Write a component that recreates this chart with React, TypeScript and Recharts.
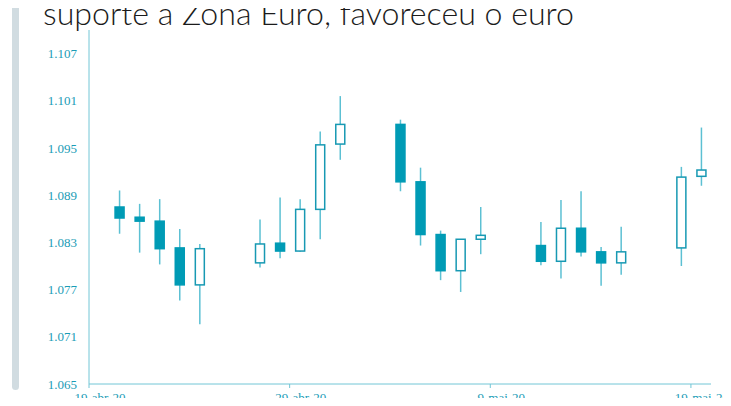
import React from 'react';
import { ComposedChart, Bar, XAxis, YAxis } from 'recharts';

// trading days (candles sit at midday of each date)
const dates = [
  '2020-04-20', '2020-04-21', '2020-04-22', '2020-04-23', '2020-04-24',
  '2020-04-27', '2020-04-28', '2020-04-29', '2020-04-30', '2020-05-01',
  '2020-05-04', '2020-05-05', '2020-05-06', '2020-05-07', '2020-05-08',
  '2020-05-11', '2020-05-12', '2020-05-13', '2020-05-14', '2020-05-15',
  '2020-05-18', '2020-05-19',
];
const open = [
  1.0875, 1.0862, 1.0857, 1.0823, 1.0776,
  1.0804, 1.0829, 1.0819, 1.0872, 1.0955,
  1.0980, 1.0907, 1.0840, 1.0794, 1.0834,
  1.0826, 1.0806, 1.0848, 1.0818, 1.0804,
  1.0823, 1.0914,
];
const high = [
  1.0896, 1.0879, 1.0885, 1.0847, 1.0828,
  1.0859, 1.0887, 1.0885, 1.0971, 1.1016,
  1.0986, 1.0925, 1.0845, 1.0834, 1.0875,
  1.0856, 1.0884, 1.0895, 1.0824, 1.0850,
  1.0926, 1.0976,
];
const low = [
  1.0841, 1.0817, 1.0802, 1.0756, 1.0726,
  1.0798, 1.0810, 1.0818, 1.0834, 1.0935,
  1.0895, 1.0826, 1.0782, 1.0767, 1.0815,
  1.0801, 1.0784, 1.0812, 1.0775, 1.0789,
  1.0800, 1.0902,
];
const close = [
  1.0861, 1.0857, 1.0822, 1.0776, 1.0822,
  1.0828, 1.0819, 1.0872, 1.0954, 1.0980,
  1.0907, 1.0840, 1.0794, 1.0834, 1.0839,
  1.0806, 1.0848, 1.0818, 1.0804, 1.0818,
  1.0913, 1.0922,
];

const yTicks = [1.065, 1.071, 1.077, 1.083, 1.089, 1.095, 1.101, 1.107];
const xTickDates = ['2020-04-19', '2020-04-29', '2020-05-09', '2020-05-19'];
const xTickLabels = ['19-abr-20', '29-abr-20', '9-mai-20', '19-mai-20'];
const lastDate = '2020-05-20';

const DAY = 86400000;
const START = Date.parse(xTickDates[0]);
const dayOf = (s: string) => (Date.parse(s) - START) / DAY;

const data = dates.map((d, i) => ({
  x: dayOf(d) + 0.5,
  range: [low[i], high[i]],
  open: open[i],
  high: high[i],
  low: low[i],
  close: close[i],
}));

const AXIS = '#72c6d6';
const LABEL = '#1a9cb6';
const FILL = '#009bb5';
const WICK = '#5cc0d3';
const BODY_W = 9;
const SERIF = "'Liberation Serif', 'Times New Roman', serif";

const Candle = (props: any) => {
  const { x, y, width, height, payload } = props;
  if (x == null || y == null) return null;
  const top = Math.min(y, y + height);
  const bot = Math.max(y, y + height);
  const span = payload.high - payload.low;
  const toPx = (v: number) => (span === 0 ? top : top + ((payload.high - v) / span) * (bot - top));
  const cx = x + width / 2;
  const up = payload.close >= payload.open;
  const bTop = toPx(Math.max(payload.open, payload.close));
  const bBot = toPx(Math.min(payload.open, payload.close));
  return (
    <g>
      <line x1={cx} x2={cx} y1={top} y2={bot} stroke={WICK} strokeWidth={1.5} />
      <rect
        x={cx - BODY_W / 2}
        y={bTop}
        width={BODY_W}
        height={Math.max(bBot - bTop, 2)}
        fill={up ? '#fff' : FILL}
        stroke={up ? '#1799b3' : FILL}
        strokeWidth={1.5}
      />
    </g>
  );
};

const tickStyle = { fill: LABEL, fontSize: 13, fontFamily: SERIF, style: { fontFamily: SERIF } };

export default function App() {
  const xTicks = xTickDates.map(dayOf);
  return (
    <div
      style={{
        position: 'relative', width: 731, height: 406, margin: -8, overflow: 'hidden',
        background: '#fff', fontFamily: SERIF,
      }}
    >
      <div
        style={{
          position: 'absolute', left: 12, top: 0, width: 7, height: 390,
          background: '#d1dce1', borderRadius: '0 0 4px 4px',
        }}
      />
      <svg width={731} height={40} style={{ position: 'absolute', left: 0, top: 0 }}>
        <text
          x={43}
          y={24.5}
          fontFamily="Lato, 'Open Sans', sans-serif"
          fontWeight={300}
          fontSize={30.5}
          fill="#1b1b1b"
          textLength={531}
          lengthAdjust="spacingAndGlyphs"
        >
          suporte à Zona Euro, favoreceu o euro
        </text>
      </svg>
      <div style={{ position: 'absolute', left: 0, top: 0 }}>
        <ComposedChart width={731} height={406} data={data} margin={{ top: 30, right: 20, bottom: 0, left: 0 }}>
          <XAxis
            type="number"
            dataKey="x"
            domain={[0, dayOf(lastDate)]}
            ticks={xTicks}
            tickFormatter={(v: number) => xTickLabels[xTicks.indexOf(v)] ?? ''}
            height={22}
            stroke={AXIS}
            tickSize={4}
            tickMargin={5}
            tick={{ ...tickStyle, dx: 11 }}
            interval={0}
          />
          <YAxis
            type="number"
            domain={[1.065, 1.11]}
            ticks={yTicks}
            tickFormatter={(v: number) => v.toFixed(3)}
            width={89}
            stroke={AXIS}
            tickLine={false}
            tickSize={6}
            tickMargin={6}
            tick={tickStyle}
            interval={0}
            allowDataOverflow
          />
          <Bar dataKey="range" barSize={BODY_W} isAnimationActive={false} shape={(p: any) => <Candle {...p} />} />
        </ComposedChart>
      </div>
    </div>
  );
}
